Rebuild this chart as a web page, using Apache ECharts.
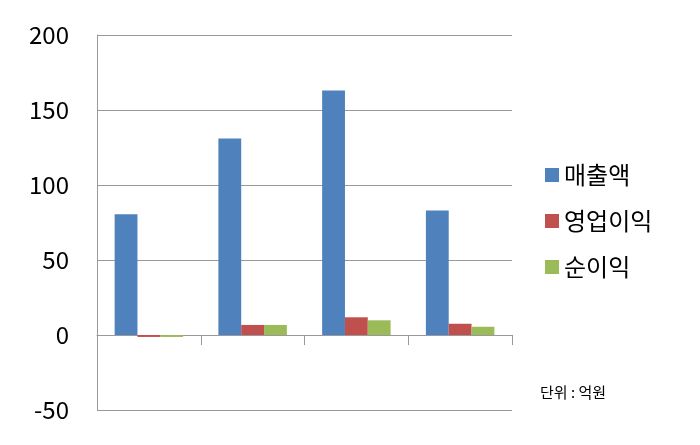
<!DOCTYPE html>
<html><head><meta charset="utf-8">
<script src="https://cdn.jsdelivr.net/npm/echarts@6/dist/echarts.min.js"></script>
<style>html,body{margin:0;padding:0;background:#fff}#c{width:700px;height:445px}</style>
</head><body><div id="c"></div>
<script>
var categories = ['2019', '2020', '2021', '2022.6'];
var sales = [80.5, 131, 163, 83];
var operating = [-1.3, 6.7, 11.8, 7.5];
var netIncome = [-1.3, 6.7, 9.8, 5.5];
var names = ['매출액', '영업이익', '순이익'];
var colors = ['#4f81bd', '#c0504d', '#9bbb59'];
var font = '"Noto Sans CJK KR", "Noto Sans", sans-serif';

var chart = echarts.init(document.getElementById('c'));
chart.setOption({
    animation: false,
    color: colors,
    textStyle: { fontFamily: font },
    grid: { left: 97, right: 188, top: 35, bottom: 35, containLabel: false, outerBoundsMode: 'none' },
    legend: {
        orient: 'vertical', left: 540, top: 158, itemGap: 22,
        itemWidth: 14, itemHeight: 14, icon: 'rect',
        textStyle: { fontSize: 24, color: '#000', fontFamily: font },
        data: names
    },
    graphic: [{
        type: 'text', left: 540, top: 385,
        style: { text: '단위 : 억원', fontSize: 15, fill: '#000', fontFamily: font }
    }],
    xAxis: {
        type: 'category', data: categories,
        axisLine: { onZero: true, lineStyle: { color: '#999' } },
        axisTick: { show: true, length: 10, lineStyle: { color: '#999' } },
        axisLabel: { margin: 44, fontSize: 24, color: '#000', fontFamily: font }
    },
    yAxis: {
        type: 'value', min: -50, max: 200, interval: 50,
        axisLine: { show: true, lineStyle: { color: '#999' } },
        axisTick: { show: false },
        splitLine: { lineStyle: { color: '#999' } },
        axisLabel: { fontSize: 24, color: '#000', margin: 28, fontFamily: font }
    },
    series: [
        { name: names[0], type: 'bar', data: sales, barGap: '0%', barCategoryGap: '34%' },
        { name: names[1], type: 'bar', data: operating },
        { name: names[2], type: 'bar', data: netIncome }
    ]
});
</script></body></html>
